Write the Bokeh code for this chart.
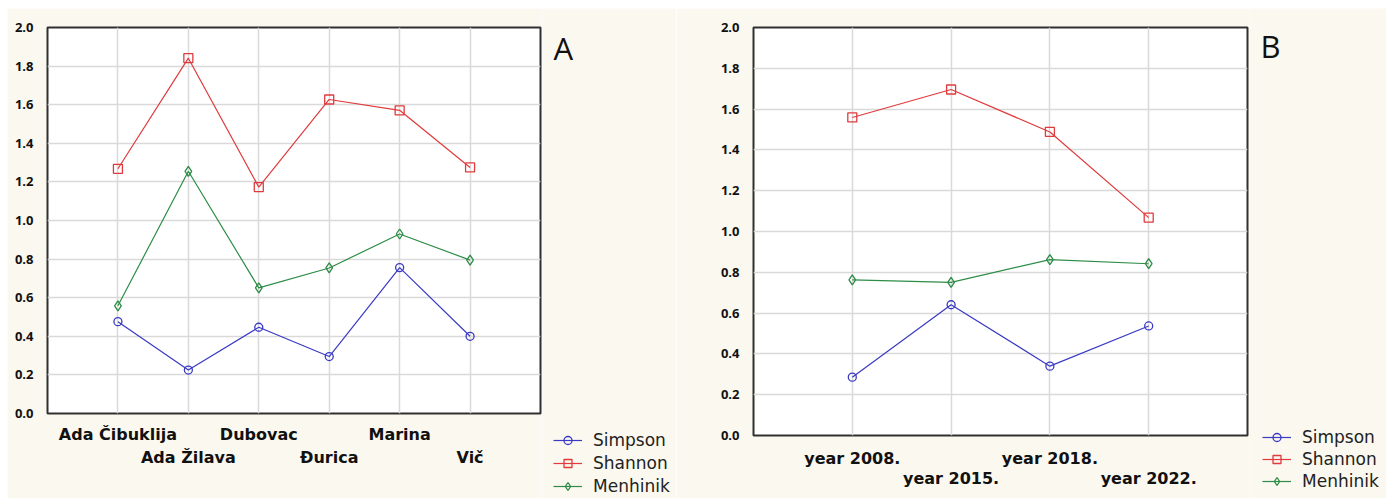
from bokeh.plotting import figure
from bokeh.models import (Range1d, FixedTicker, LinearAxis, Legend, LegendItem,
                          Spacer, PrintfTickFormatter, Label)
from bokeh.layouts import row, column
from bokeh.embed import file_html
from bokeh.resources import INLINE

# ---------------- data ----------------
sites = ["Ada Čibuklija", "Ada Žilava", "Dubovac", "Đurica", "Marina", "Vič"]
simpson_a = [0.476, 0.225, 0.447, 0.295, 0.756, 0.40]
shannon_a = [1.268, 1.841, 1.173, 1.627, 1.571, 1.275]
menhinik_a = [0.558, 1.255, 0.651, 0.754, 0.93, 0.795]

years = ["year 2008.", "year 2015.", "year 2018.", "year 2022."]
simpson_b = [0.286, 0.641, 0.34, 0.537]
shannon_b = [1.559, 1.696, 1.488, 1.068]
menhinik_b = [0.763, 0.751, 0.862, 0.842]

y_ticks = [0.0, 0.2, 0.4, 0.6, 0.8, 1.0, 1.2, 1.4, 1.6, 1.8, 2.0]
series_names = ["Simpson", "Shannon", "Menhinik"]

# ---------------- style ----------------
CREAM = "#FBF8EF"
BLUE = "#3a3ac4"
RED = "#e03a3c"
GREEN = "#2d8c46"
GRID = "#d9d9d9"
SPECS = [(BLUE, "circle", 8), (RED, "square", 9), (GREEN, "diamond", 10)]


def no_align(p):
    if "frame_align" in p.properties():
        p.frame_align = False


def make_panel(cats, series, frame_w, frame_h, mb_left, mb_top, mb_bottom,
               std1, std2):
    n = len(cats)
    xs = list(range(n))
    p = figure(frame_width=frame_w, frame_height=frame_h,
               output_backend="svg", toolbar_location=None,
               x_range=Range1d(-1, n), y_range=Range1d(0, 2),
               x_axis_location=None, y_axis_location=None,
               min_border_left=mb_left, min_border_right=2,
               min_border_top=mb_top, min_border_bottom=mb_bottom)
    no_align(p)
    p.background_fill_color = "white"
    p.border_fill_color = CREAM
    p.outline_line_color = "#303030"
    p.outline_line_width = 2

    yax = LinearAxis(ticker=FixedTicker(ticks=y_ticks),
                     formatter=PrintfTickFormatter(format="%.1f"))
    yax.axis_line_color = None
    yax.major_tick_line_color = None
    yax.minor_tick_line_color = None
    yax.major_label_standoff = 8
    yax.major_label_text_font = "Open Sans"
    yax.major_label_text_font_style = "bold"
    yax.major_label_text_font_size = "13px"
    yax.major_label_text_color = "#111111"
    p.add_layout(yax, "left")

    # two staggered bottom axes
    even = [i for i in xs if i % 2 == 0]
    odd = [i for i in xs if i % 2 == 1]
    for ticks, std in [(even, std1), (odd, std2)]:
        ax = LinearAxis(ticker=FixedTicker(ticks=ticks),
                        major_label_overrides={i: cats[i] for i in ticks})
        ax.axis_line_color = None
        ax.minor_tick_line_color = None
        ax.major_tick_line_color = None
        ax.major_tick_out = 0
        ax.major_tick_in = 0
        ax.major_label_standoff = std
        ax.major_label_text_font = "DejaVu Sans"
        ax.major_label_text_font_style = "bold"
        ax.major_label_text_font_size = "16px"
        ax.major_label_text_color = "#111111"
        p.add_layout(ax, "below")

    p.xgrid.ticker = FixedTicker(ticks=xs)
    p.ygrid.ticker = FixedTicker(ticks=y_ticks)
    for g in (p.xgrid[0], p.ygrid[0]):
        g.grid_line_color = GRID
        g.grid_line_width = 1.5

    for vals, (col, mk, sz) in zip(series, SPECS):
        p.line(xs, vals, line_color=col, line_width=1.2)
        p.scatter(xs, vals, marker=mk, size=sz, line_color=col,
                  line_width=1.3, fill_color="white", fill_alpha=0.0)
    return p


def make_side(width, height, letter, series, legend_loc, legend_spacing,
              letter_xy):
    """Cream strip right of a panel: panel letter and series legend.
    The legend swatch renderers carry the series but lie outside this
    strip's view range, so only their legend entries show."""
    xs = list(range(len(series[0])))
    s = figure(frame_width=width, frame_height=height, output_backend="svg",
               toolbar_location=None, x_range=Range1d(-3, -2),
               y_range=Range1d(0, 2), x_axis_location=None,
               y_axis_location=None, min_border=0)
    no_align(s)
    s.background_fill_color = CREAM
    s.border_fill_color = CREAM
    s.outline_line_color = None
    s.grid.visible = False

    items = []
    for name, vals, (col, mk, sz) in zip(series_names, series, SPECS):
        ln = s.line(xs, vals, line_color=col, line_width=1.2)
        sc = s.scatter(xs, vals, marker=mk, size=sz, line_color=col,
                       line_width=1.3, fill_color="white", fill_alpha=0.0)
        items.append(LegendItem(label=name, renderers=[ln, sc]))

    leg = Legend(items=items, location=legend_loc)
    leg.background_fill_alpha = 0
    leg.border_line_color = None
    leg.padding = 0
    leg.margin = 0
    leg.spacing = legend_spacing
    leg.glyph_width = 29
    leg.glyph_height = 20
    leg.label_height = 20
    leg.label_standoff = 11
    leg.label_text_font = "DejaVu Sans"
    leg.label_text_font_size = "17px"
    leg.label_text_color = "#222222"
    s.add_layout(leg)

    s.add_layout(Label(x=letter_xy[0], y=letter_xy[1], x_units="screen",
                       y_units="screen", text=letter, text_font="Open Sans",
                       text_font_size="31px", text_color="#111111",
                       text_baseline="middle", text_align="left"))
    return s


# left panel: page x 7..542, frame 47..540 x, 27..413 y
series_a = [simpson_a, shannon_a, menhinik_a]
p1 = make_panel(sites, series_a, frame_w=493, frame_h=386, mb_left=40,
                mb_top=19, mb_bottom=85, std1=11, std2=1)
s1 = make_side(134, 490, "A", series_a, legend_loc=(11, 2),
               legend_spacing=3, letter_xy=(11, 451))

# right panel: page x 676..1249, frame 753..1247 x, 27..435 y
series_b = [simpson_b, shannon_b, menhinik_b]
p2 = make_panel(years, series_b, frame_w=494, frame_h=408, mb_left=77,
                mb_top=19, mb_bottom=63, std1=13, std2=-2)
s2 = make_side(137, 490, "B", series_b, legend_loc=(13, 7),
               legend_spacing=2, letter_xy=(11, 453))

layout = column(Spacer(height=8),
                row(Spacer(width=7), p1, s1, p2, s2, Spacer(width=6)))

open("out.html", "w").write(file_html(layout, INLINE))
